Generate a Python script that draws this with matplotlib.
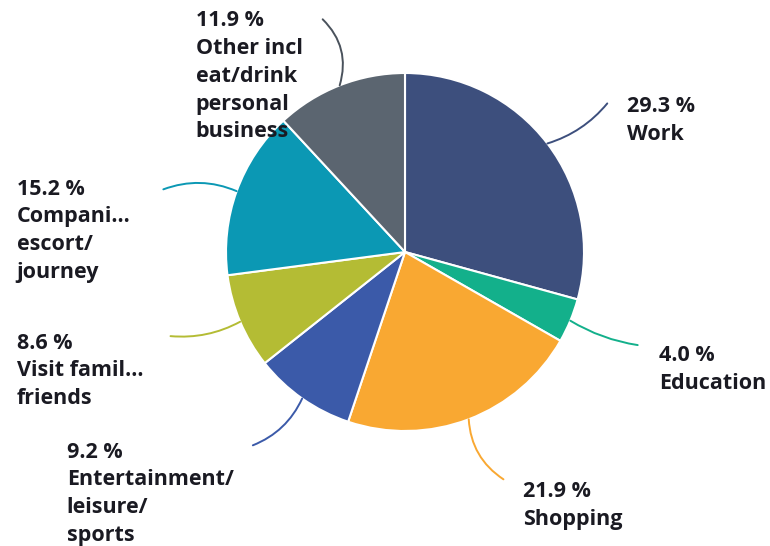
import matplotlib
matplotlib.use("Agg")
import matplotlib.pyplot as plt
import numpy as np

# Trip purpose shares (%), clockwise from 12 o'clock
purposes = ["Work", "Education", "Shopping", "Entertainment/\nleisure/\nsports",
            "Visit famil...\nfriends", "Compani...\nescort/\njourney",
            "Other incl\neat/drink\npersonal\nbusiness"]
shares = [29.3, 4.0, 21.9, 9.2, 8.6, 15.2, 11.9]
colors = ["#3d4f7d", "#13b08b", "#f9a832", "#3b5aa9", "#b4bc34", "#0b98b4", "#5b6570"]
line_colors = ["#3d4f7d", "#13b08b", "#f9a832", "#3b5aa9", "#b4bc34", "#0b98b4", "#4a525c"]

# label block top-left corners (pie radius = 1, centre at origin)
label_pos = [(1.24, 0.87), (1.42, -0.52), (0.66, -1.28), (-1.89, -1.06),
             (-2.17, -0.45), (-2.17, 0.41), (-1.17, 1.35)]
# where each leader line ends
leader_end = [(1.13, 0.83), (1.30, -0.52), (0.55, -1.27), (-0.85, -1.08),
              (-1.31, -0.47), (-1.35, 0.35), (-0.46, 1.30)]
leader_rad = [0.15, 0.1, 0.25, -0.2, -0.15, 0.2, 0.3]

fig = plt.figure(figsize=(7.7, 5.46), dpi=100)
ax = fig.add_axes([0, 0, 1, 1])

wedges, _ = ax.pie(shares, colors=colors, startangle=90, counterclock=False,
                   radius=1.0, wedgeprops=dict(edgecolor="white", linewidth=1.5))

# 1 data unit = 179 px, pie centre at (405, 252) px
R = 179.0
ax.set_xlim(-405 / R, 365 / R)
ax.set_ylim(-294 / R, 252 / R)
ax.axis("off")

cum = np.cumsum([0] + shares[:-1])
for i, (name, val) in enumerate(zip(purposes, shares)):
    ang = np.deg2rad(90 - (cum[i] + val / 2) / sum(shares) * 360)
    start = (np.cos(ang), np.sin(ang))
    ax.annotate("", xy=leader_end[i], xytext=start,
                arrowprops=dict(arrowstyle="-", color=line_colors[i], lw=1.4,
                                shrinkA=0, shrinkB=0,
                                connectionstyle=f"arc3,rad={leader_rad[i]}"))
    ax.text(label_pos[i][0], label_pos[i][1], f"{val:.1f} %\n{name}",
            ha="left", va="top", fontsize=15.5, fontweight="bold",
            family="Open Sans", color="#1a1a22", linespacing=1.42)

fig.savefig("out.png", dpi=100, facecolor="white")
